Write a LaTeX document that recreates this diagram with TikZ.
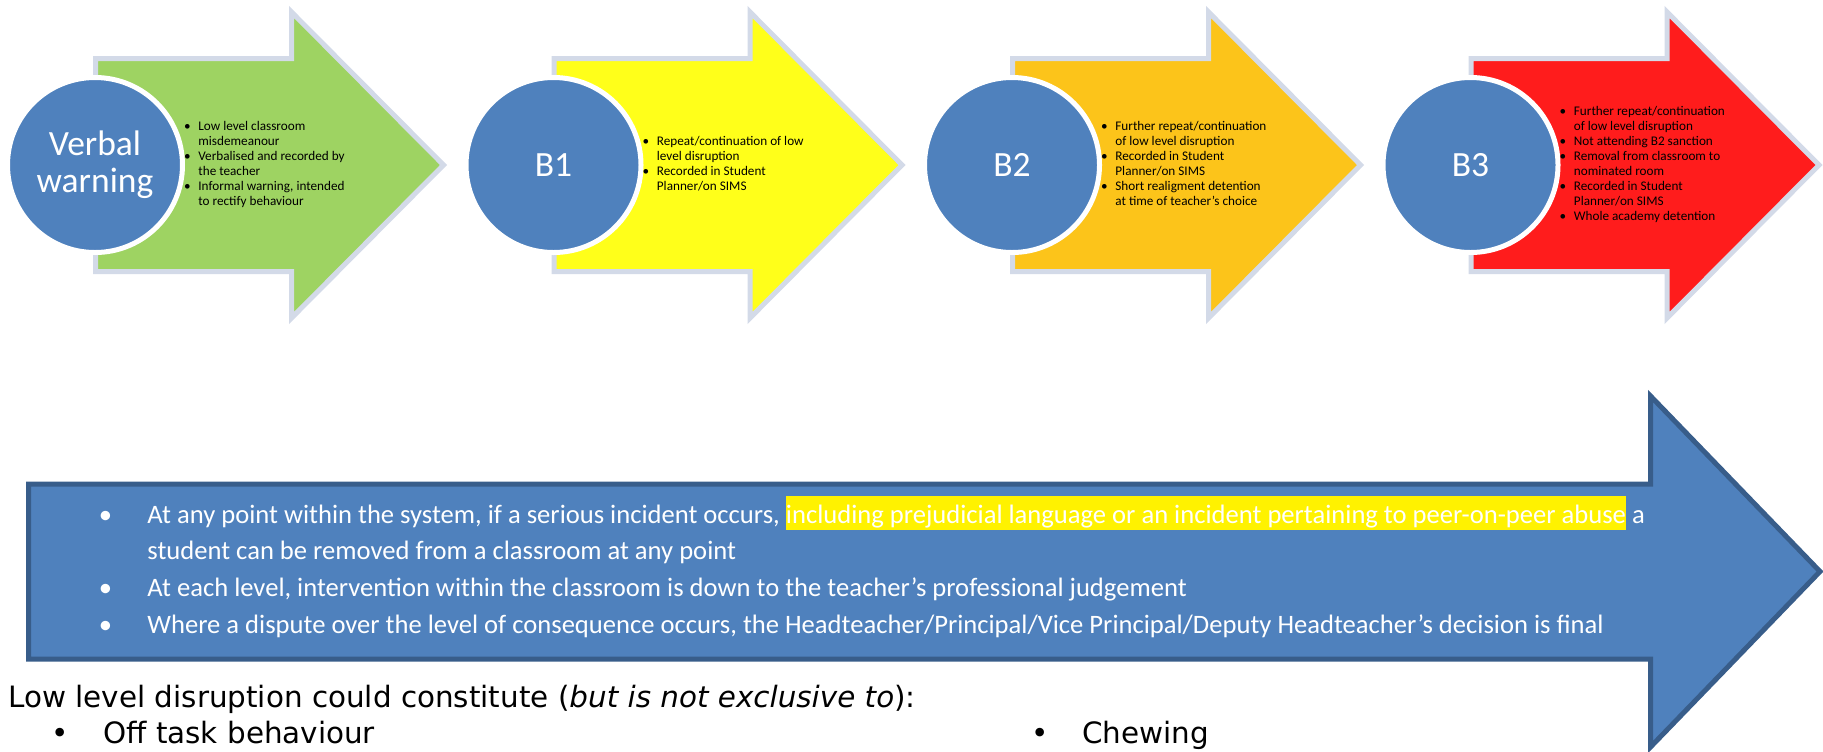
\documentclass[tikz,border=0pt]{standalone}
\usepackage{fontspec}
\setmainfont{Carlito}
\newfontfamily\verdana{DejaVu Sans}
\usepackage{tikz}
\usetikzlibrary{calc}
\definecolor{stageblue}{RGB}{79,129,189}
\definecolor{stagerim}{RGB}{56,93,138}
\definecolor{arrowrim}{RGB}{211,218,232}
\definecolor{stagegreen}{RGB}{158,211,98}
\definecolor{stageyellow}{RGB}{255,255,26}
\definecolor{stageamber}{RGB}{252,196,26}
\definecolor{stagered}{RGB}{255,28,28}
\def\stagearrow[#1](#2){\draw[#1, shift={(#2,0)}] (0.5,58.5) -- (196.5,58.5) -- (196.5,12) -- (348.5,165) -- (196.5,318) -- (196.5,271.5) -- (0.5,271.5) -- cycle;}
\def\hilite#1{{\setlength{\fboxsep}{0pt}\colorbox{yellow}{\rule[-3.5pt]{0pt}{17pt}#1}}}
\def\bulletmark{\makebox[0pt]{\textbullet}}
\tikzset{
	stagearrow/.style={draw=arrowrim, line width=2.5pt},
	stagecircle/.style={circle, fill=stageblue, draw=white, line width=2.5pt, minimum size=87.5pt, inner sep=0pt, text=white, align=center, font=\fontsize{17.75}{18.5}\selectfont},
	stagelist/.style={anchor=west, inner sep=0pt, font=\fontsize{6.6}{7.45}\selectfont},
	notelist/.style={anchor=base west, inner sep=0pt, text=white, font=\fontsize{13.3}{18.35}\selectfont},
	lowtext/.style={anchor=base west, inner sep=0pt, font=\verdana\fontsize{14.7}{17}\selectfont}
}

\begin{document}
\begin{tikzpicture}[x=0.5pt, y=-0.5pt]
			%%%%% START %%%%%
			\useasboundingbox (0,0) rectangle (1823,751);
			
			\stagearrow[stagearrow, fill=stagegreen](95);
			\node[stagecircle] (verbal) at (95,165) {Verbal\\warning};
			\node[stagelist] (verballist) at (187,165) {\begin{tabular}{@{}c@{\hspace{5.5pt}}l@{}}
				\bulletmark & Low level classroom\\ & misdemeanour\\
				\bulletmark & Verbalised and recorded by\\ & the teacher\\
				\bulletmark & Informal warning, intended\\ & to rectify behaviour
			\end{tabular}};
			
			\stagearrow[stagearrow, fill=stageyellow](553.5);
			\node[stagecircle] (bone) at (553.5,165) {B1};
			\node[stagelist] (bonelist) at (645.5,165) {\begin{tabular}{@{}c@{\hspace{5.5pt}}l@{}}
				\bulletmark & Repeat/continuation of low\\ & level disruption\\
				\bulletmark & Recorded in Student\\ & Planner/on SIMS
			\end{tabular}};
			
			\stagearrow[stagearrow, fill=stageamber](1012);
			\node[stagecircle] (btwo) at (1012,165) {B2};
			\node[stagelist] (btwolist) at (1104,165) {\begin{tabular}{@{}c@{\hspace{5.5pt}}l@{}}
				\bulletmark & Further repeat/continuation\\ & of low level disruption\\
				\bulletmark & Recorded in Student\\ & Planner/on SIMS\\
				\bulletmark & Short realigment detention\\ & at time of teacher's choice
			\end{tabular}};
			
			\stagearrow[stagearrow, fill=stagered](1470.5);
			\node[stagecircle] (bthree) at (1470.5,165) {B3};
			\node[stagelist] (bthreelist) at (1562.5,165) {\begin{tabular}{@{}c@{\hspace{5.5pt}}l@{}}
				\bulletmark & Further repeat/continuation\\ & of low level disruption\\
				\bulletmark & Not attending B2 sanction\\
				\bulletmark & Removal from classroom to\\ & nominated room\\
				\bulletmark & Recorded in Student\\ & Planner/on SIMS\\
				\bulletmark & Whole academy detention
			\end{tabular}};
			
			% the long arrow underneath
			\draw[line width=2.5pt, draw=stagerim, fill=stageblue] (28.5,484) -- (1650.5,484) -- (1650.5,396) -- (1820,571.5) -- (1650.5,747) -- (1650.5,659) -- (28.5,659) -- cycle;
			\node[notelist] (notes) at (105,523) {\begin{tabular}[t]{@{}c@{\hspace{21pt}}l@{}}
				\bulletmark & At any point within the system, if a serious incident occurs, \hilite{including prejudicial language or an incident pertaining to peer-on-peer abuse} a\\
				& student can be removed from a classroom at any point\\
				\bulletmark & At each level, intervention within the classroom is down to the teacher’s professional judgement\\
				\bulletmark & Where a dispute over the level of consequence occurs, the Headteacher/Principal/Vice Principal/Deputy Headteacher’s decision is final
			\end{tabular}};
			
			\node[lowtext] (lowlevel) at (8,707) {Low level disruption could constitute (\textit{but is not exclusive to}):};
			\node[lowtext] (offtask) at (60,743) {\bulletmark\hspace{21.5pt}Off task behaviour};
			\node[lowtext] (chewing) at (1040,743) {\bulletmark\hspace{21pt}Chewing};
			
			%%%%% END %%%%%
		\end{tikzpicture}
\end{document}
